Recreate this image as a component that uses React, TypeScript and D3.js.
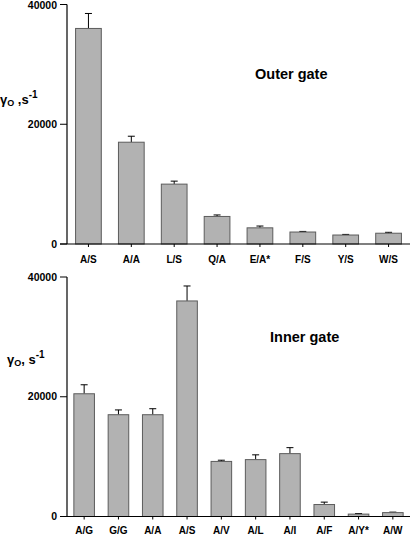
import React from "react";
import * as d3 from "d3";

const outerCats = ["A/S", "A/A", "L/S", "Q/A", "E/A*", "F/S", "Y/S", "W/S"];
const outerVals = [36000, 17000, 10000, 4600, 2700, 2000, 1500, 1800];
const outerErr = [2500, 1000, 500, 250, 300, 100, 100, 150];

const innerCats = ["A/G", "G/G", "A/A", "A/S", "A/V", "A/L", "A/I", "A/F", "A/Y*", "A/W"];
const innerVals = [20500, 17000, 17000, 36000, 9200, 9500, 10500, 2000, 400, 650];
const innerErr = [1500, 800, 1000, 2500, 200, 800, 1000, 400, 100, 80];

const yTicks = [0, 20000, 40000];

const FONT = "'Liberation Sans', Arial, sans-serif";

type PanelProps = {
  cats: string[];
  vals: number[];
  errs: number[];
  y0: number;
  y1: number;
  title: string;
  titleX: number;
  titleY: number;
  labelY: number;
  yLabel: React.ReactNode;
};

function Panel({ cats, vals, errs, y0, y1, title, titleX, titleY, labelY, yLabel }: PanelProps) {
  const x = d3.scaleBand<string>().domain(cats).range([67, 410]).paddingInner(0.4).paddingOuter(0.2);
  const y = d3.scaleLinear().domain([0, 40000]).range([y0, y1]);
  const bw = x.bandwidth();
  return (
    <g>
      {cats.map((c, i) => {
        const cx = (x(c) as number) + bw / 2;
        return (
          <g key={c}>
            <line x1={cx} x2={cx} y1={y(vals[i])} y2={y(vals[i] + errs[i])} stroke="#000" strokeWidth={1} />
            <line x1={cx - 3.5} x2={cx + 3.5} y1={y(vals[i] + errs[i])} y2={y(vals[i] + errs[i])} stroke="#000" strokeWidth={1} />
            <rect x={x(c)} y={y(vals[i])} width={bw} height={y(0) - y(vals[i])} fill="#b2b2b2" stroke="#5c5c5c" strokeWidth={1} />
            <line x1={cx} x2={cx} y1={y(0)} y2={y(0) + 3} stroke="#000" strokeWidth={1} />
            <text x={cx} y={labelY} textAnchor="middle" fontFamily={FONT} fontWeight="bold" fontSize={10}>{c}</text>
          </g>
        );
      })}
      <line x1={67} x2={67} y1={y(40000)} y2={y(0)} stroke="#000" strokeWidth={1.2} />
      <line x1={60} x2={410} y1={y(0)} y2={y(0)} stroke="#000" strokeWidth={1.2} />
      {yTicks.map((t) => (
        <g key={t}>
          <line x1={60} x2={67} y1={y(t)} y2={y(t)} stroke="#000" strokeWidth={1} />
          <text x={57} y={y(t)} dy={t === 40000 ? "0.42em" : "0.35em"} textAnchor="end" fontFamily={FONT} fontWeight="bold" fontSize={10.5}>{t}</text>
        </g>
      ))}
      <text x={titleX} y={titleY} fontFamily={FONT} fontWeight="bold" fontSize={14.5}>{title}</text>
      {yLabel}
    </g>
  );
}

export default function App() {
  return (
    <svg width={410} height={537} style={{ position: "fixed", left: 0, top: 0, background: "#fff" }}>
      <rect x={0} y={0} width={410} height={537} fill="#fff" />
      <Panel
        cats={outerCats}
        vals={outerVals}
        errs={outerErr}
        y0={244}
        y1={4.5}
        title="Outer gate"
        titleX={255}
        titleY={79}
        labelY={263}
        yLabel={
          <text x={0} y={104} fontFamily={FONT} fontWeight="bold" fontSize={13}>
            γ<tspan fontSize={9} dy={2}>O</tspan>
            <tspan dy={-2}> ,s</tspan>
            <tspan fontSize={10} dy={-6}>-1</tspan>
          </text>
        }
      />
      <Panel
        cats={innerCats}
        vals={innerVals}
        errs={innerErr}
        y0={516.5}
        y1={277}
        title="Inner gate"
        titleX={270}
        titleY={342}
        labelY={534}
        yLabel={
          <text x={7} y={364} fontFamily={FONT} fontWeight="bold" fontSize={13}>
            γ<tspan fontSize={9} dy={2}>O</tspan>
            <tspan dy={-2}>, s</tspan>
            <tspan fontSize={10} dy={-6}>-1</tspan>
          </text>
        }
      />
    </svg>
  );
}
